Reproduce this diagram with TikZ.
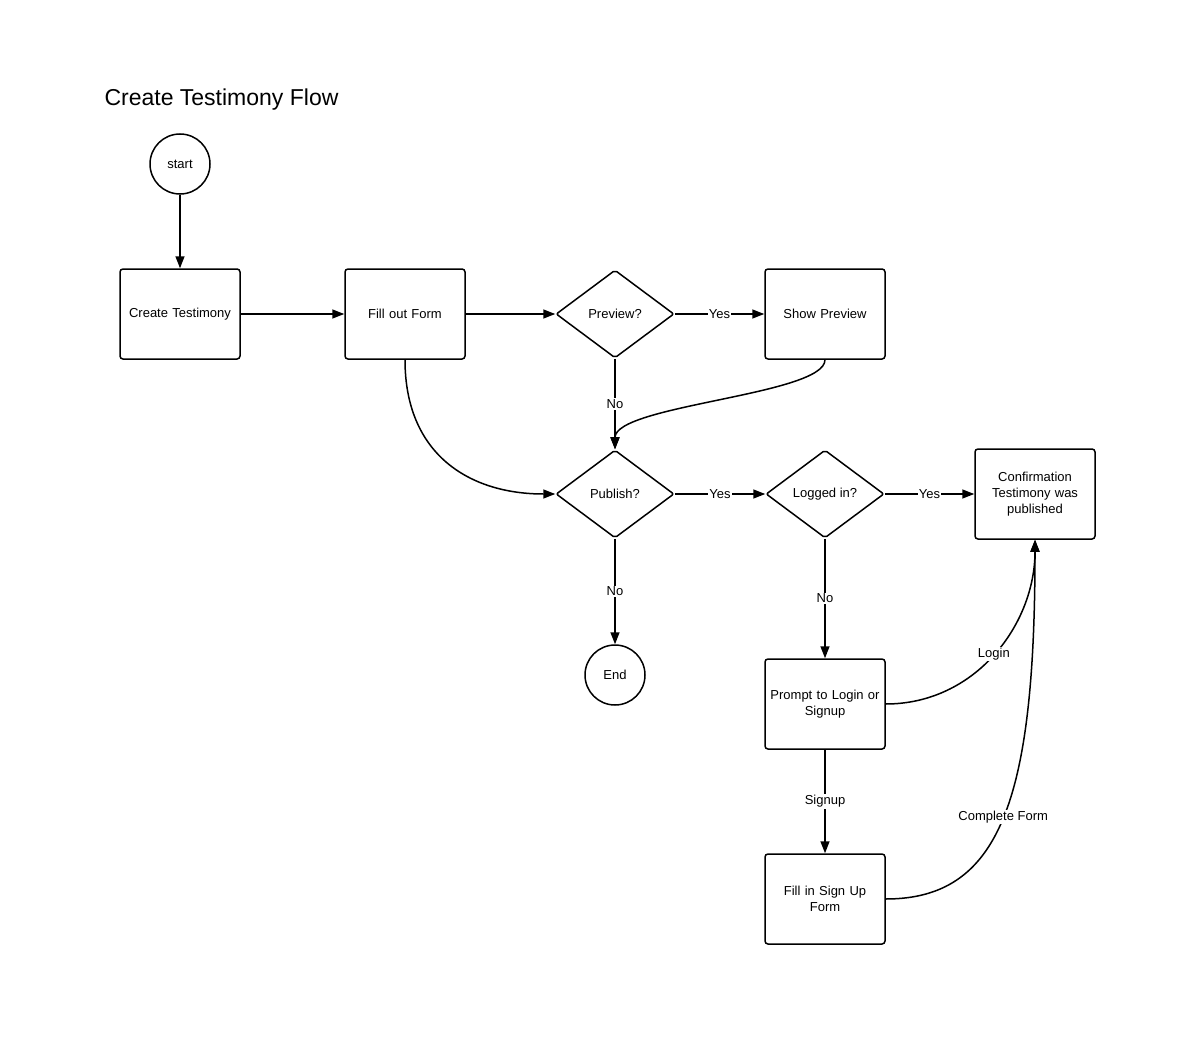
\documentclass[tikz,border=0pt]{standalone}
\usepackage{fontspec}
\setmainfont{Liberation Sans}
\usetikzlibrary{shapes.geometric,arrows.meta}
\begin{document}
\begin{tikzpicture}[x=1pt,y=-1pt,
  every node/.style={font=\fontsize{13}{16}\selectfont},
  box/.style={draw,line width=1.5pt,rounded corners=3pt,minimum width=120pt,minimum height=90pt,inner sep=2pt,align=center,text width=116pt},
  term/.style={draw,line width=1.5pt,circle,minimum size=60pt,inner sep=0pt},
  choice/.style={draw,line width=1.5pt,diamond,rounded corners=2pt,minimum width=118pt,minimum height=88pt,aspect=1.34,inner sep=0pt},
  flow/.style={line width=1.5pt,-{Triangle[length=12pt,width=9pt]}},
  lbl/.style={fill=white,inner sep=1pt}]
\useasboundingbox[fill=white] (0,0) rectangle (1197,1062);

\node[anchor=west,font=\fontsize{23}{27}\selectfont] (title) at (101,100) {Create Testimony Flow};

\node[term] (start) at (180,164) {start};
\node[box] (create) at (180,314) {Create Testimony};
\node[box] (form) at (405,314) {Fill out Form};
\node[choice] (preview) at (615,314) {Preview?};
\node[box] (show) at (825,314) {Show Preview};
\node[choice] (publish) at (615,494) {Publish?};
\node[choice] (logged) at (825,494) {Logged in?};
\node[box] (confirm) at (1035,494) {Confirmation\\Testimony was\\published};
\node[term] (end) at (615,675) {End};
\node[box] (prompt) at (825,704) {Prompt to Login or\\Signup};
\node[box] (signup) at (825,899) {Fill in Sign Up\\Form};

\draw[flow] (start) -- (create);
\draw[flow] (create) -- (form);
\draw[flow] (form) -- (preview);
\draw[flow] (preview) -- node[lbl] {Yes} (show);
\draw[flow] (preview) -- node[lbl,pos=0.5] {No} (publish);
\draw[flow] (show.south) .. controls (825,395) and (615,405) .. (publish.north);
\draw[flow] (form.south) .. controls (405,455) and (470,494) .. (publish.west);
\draw[flow] (publish) -- node[lbl] {Yes} (logged);
\draw[flow] (publish) -- node[lbl,pos=0.5] {No} (end);
\draw[flow] (logged) -- node[lbl,pos=0.5] {Yes} (confirm);
\draw[flow] (logged) -- node[lbl] {No} (prompt);
\draw[flow] (prompt) -- node[lbl] {Signup} (signup);
\draw[flow] (prompt.east) .. controls (975,704) and (1035,625) .. node[lbl,pos=0.5] {Login} (confirm.south);
\draw[flow] (signup.east) .. controls (1000,899) and (1035,800) .. node[lbl,pos=0.5] {Complete Form} (confirm.south);
\end{tikzpicture}
\end{document}
